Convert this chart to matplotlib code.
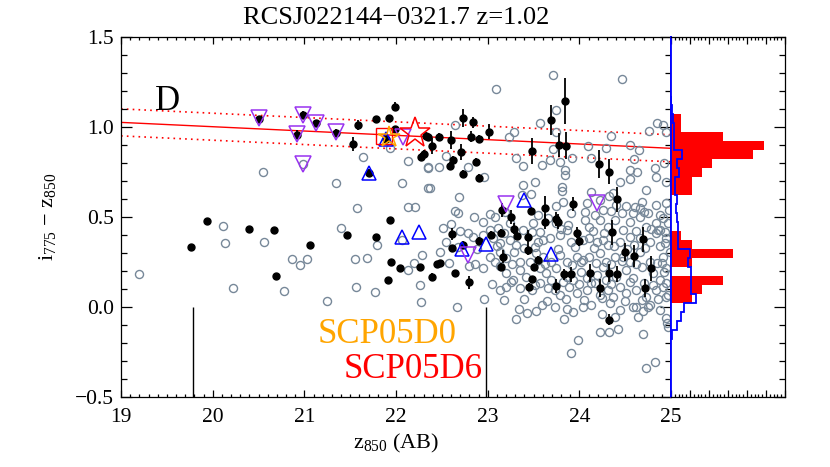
import numpy as np
import matplotlib
matplotlib.use('Agg')
import matplotlib.pyplot as plt
from matplotlib.ticker import MultipleLocator

plt.rcParams['font.family'] = ['Liberation Serif', 'DejaVu Serif']
plt.rcParams['mathtext.fontset'] = 'custom'
plt.rcParams['mathtext.rm'] = 'Liberation Serif'
plt.rcParams['mathtext.it'] = 'Liberation Serif:italic'

# field galaxies (open grey circles)
gray_x = [19.20, 20.11, 20.13, 20.22, 20.56, 20.78, 20.87, 20.95, 21.03, 21.25, 21.40, 21.57,
          21.55, 21.68, 21.79, 21.56, 21.77, 22.13, 22.20, 22.28, 22.26, 22.27, 22.13, 22.21,
          21.35, 22.06, 22.35, 20.55, 21.64, 22.13, 22.35, 21.93, 20.98, 22.06,
          # upper right
          23.09, 23.71, 24.47, 22.64, 22.55, 22.47, 22.35, 22.37, 22.78, 22.96, 23.23, 23.29,
          23.57, 23.31, 23.39, 23.71, 23.75, 23.74, 23.68, 23.79, 23.84, 23.84, 23.92, 23.59,
          23.52, 23.47, 24.09, 24.13, 24.29, 24.34, 24.22, 24.32, 24.44, 24.55, 24.60, 24.65,
          24.55, 24.63, 24.55, 24.76, 24.85, 24.91, 24.82, 24.84, 24.95, 24.51, 24.61,
          # dense cloud
          23.39, 23.81, 23.81, 24.13, 24.37, 24.73,
          22.69, 23.37, 23.75, 23.82, 24.06, 24.08, 24.26, 24.40, 24.59, 24.66, 24.75, 24.84,
          24.95, 24.98,
          22.51, 22.60, 22.68, 22.64, 22.85, 22.95, 23.08, 23.11, 23.24, 23.49, 23.66, 23.75,
          23.88, 24.06, 24.11, 24.22, 24.31, 24.39, 24.55, 24.66, 24.84, 24.91, 24.97,
          22.55, 22.79, 22.84, 22.95, 23.06, 23.13, 23.24, 23.31, 23.48, 23.55, 23.60, 23.68,
          23.79, 23.86, 23.91, 24.04, 24.11, 24.19, 24.26, 24.31, 24.44, 24.55, 24.60, 24.66,
          24.77, 24.84, 24.95,
          22.48, 23.02, 23.13, 23.20, 23.29, 23.35, 23.53, 23.60, 23.69, 23.79, 23.86, 23.97,
          24.04, 24.11, 24.22, 24.29, 24.39, 24.48, 24.55, 24.66, 24.77, 24.91, 24.99,
          22.80, 22.95, 23.13, 23.20, 23.28, 23.35, 23.42, 23.57, 23.64, 23.69, 23.75, 23.86,
          23.93, 24.02, 24.08, 24.19, 24.26, 24.29, 24.40, 24.51, 24.59, 24.68, 24.80, 24.88,
          24.95,
          23.13, 23.20, 23.35, 23.48, 23.57, 23.66, 23.73, 23.79, 23.89, 23.97, 24.08, 24.17,
          24.22, 24.31, 24.37, 24.44, 24.51, 24.62, 24.73, 24.84, 24.91, 24.97,
          22.66, 22.96, 23.59, 23.73, 23.93, 24.04, 24.13, 24.33, 24.44, 24.59, 24.77, 24.88,
          24.22,
          # faint / bottom
          23.34, 23.43, 23.53, 23.31, 23.87, 23.83, 23.98, 23.91, 24.25, 24.39, 24.32, 24.42,
          24.62, 24.69, 24.64, 24.69, 24.73, 24.82, 24.94, 24.96, 24.97,
          24.95, 24.92, 24.88, 24.68, 24.86, 24.73, 24.93, 24.90, 24.92, 24.95, 24.95, 24.75,
          # overlapping circles in the crowded part
          23.02, 23.19, 23.55, 23.91, 24.17, 24.34, 24.46, 24.71, 24.88,
          22.70, 23.02, 23.18, 23.38, 23.57, 23.80, 24.15, 24.27, 24.48, 24.62, 24.78, 24.93,
          22.68, 22.88, 23.10, 23.40, 23.52, 23.77, 23.95, 24.16, 24.38, 24.52, 24.72, 24.88,
          22.58, 22.86, 23.08, 23.27, 23.46, 23.63, 23.92, 24.02, 24.18, 24.35, 24.46, 24.62,
          24.85,
          23.05, 23.25, 23.52, 23.82, 24.00, 24.13, 24.35, 24.55, 24.70, 24.80,
          23.18, 23.40, 23.65, 23.85, 24.05, 24.25, 24.50, 24.68, 24.86]
gray_y = [0.184, 0.448, 0.354, 0.104, 0.360, 0.087, 0.263, 0.234, 0.263, 0.034, 0.439, 0.550,
          0.265, 0.273, 0.343, 0.108, 0.080, 0.204, 0.241, 0.286, 0.119, 0.026, 0.556, 0.556,
          0.689, 0.689, 0.658, 0.747, 0.830, 0.812, 0.775, 0.880, 0.793, 0.372,
          1.208, 1.288, 1.264, 1.010, 0.838, 0.775, 0.769, 0.658, 0.775, 0.719, 0.941, 0.973,
          1.023, 0.825, 0.782, 0.875, 1.093, 0.973, 0.815, 0.806, 0.760, 0.732, 0.825, 0.788,
          0.695, 0.627, 0.893, 0.828, 0.880, 0.949, 0.593, 0.615, 0.695, 0.899, 0.821, 0.871,
          0.760, 0.751, 0.708, 0.977, 1.023, 1.010, 0.769, 0.719, 0.695, 0.560, 0.556,
          0.676, 0.667, 0.645, 0.639, 0.630, 0.648,
          0.611, 0.621, 0.560, 0.584, 0.528, 0.574, 0.537, 0.565, 0.519, 0.547, 0.519, 0.565,
          0.574, 0.537,
          0.435, 0.458, 0.519, 0.532, 0.497, 0.473, 0.500, 0.435, 0.463, 0.463, 0.491, 0.463,
          0.454, 0.482, 0.445, 0.482, 0.445, 0.482, 0.473, 0.500, 0.463, 0.491, 0.463,
          0.361, 0.408, 0.389, 0.398, 0.380, 0.352, 0.371, 0.343, 0.417, 0.361, 0.371, 0.380,
          0.398, 0.426, 0.361, 0.371, 0.380, 0.361, 0.371, 0.343, 0.361, 0.389, 0.343, 0.380,
          0.361, 0.408, 0.380,
          0.306, 0.278, 0.306, 0.269, 0.306, 0.250, 0.297, 0.278, 0.250, 0.287, 0.250, 0.278,
          0.260, 0.278, 0.297, 0.250, 0.278, 0.278, 0.250, 0.306, 0.250, 0.278, 0.306,
          0.226, 0.213, 0.226, 0.185, 0.148, 0.204, 0.167, 0.213, 0.185, 0.148, 0.213, 0.167,
          0.148, 0.195, 0.158, 0.176, 0.223, 0.148, 0.167, 0.204, 0.158, 0.223, 0.185, 0.148,
          0.213,
          0.093, 0.111, 0.102, 0.093, 0.130, 0.102, 0.093, 0.065, 0.111, 0.074, 0.093, 0.130,
          0.065, 0.093, 0.056, 0.111, 0.074, 0.093, 0.056, 0.093, 0.111, 0.065,
          -0.003, 0.043, 0.010, 0.000, -0.027, 0.000, 0.010, 0.019, -0.018, 0.000, 0.010, -0.018,
          -0.139,
          -0.013, -0.033, -0.022, -0.068, -0.014, -0.068, -0.185, -0.259, -0.040, -0.055, -0.138, -0.124,
          0.000, -0.022, -0.055, -0.151, -0.342, -0.305, -0.064, -0.092, -0.114,
          0.972, 0.796, 0.426, 0.583, 0.426, 0.444, 0.352, 0.241, 0.194, 0.130, 0.055, 0.000,
          0.515, 0.528, 0.512, 0.522, 0.509, 0.531, 0.518, 0.525, 0.510,
          0.418, 0.425, 0.411, 0.428, 0.416, 0.433, 0.420, 0.412, 0.427, 0.418, 0.430, 0.414,
          0.330, 0.322, 0.338, 0.326, 0.334, 0.318, 0.331, 0.325, 0.340, 0.322, 0.328, 0.335,
          0.245, 0.238, 0.251, 0.236, 0.247, 0.240, 0.233, 0.249, 0.242, 0.237, 0.252, 0.239,
          0.244,
          0.128, 0.135, 0.122, 0.138, 0.126, 0.131, 0.124, 0.136, 0.129, 0.121,
          0.038, 0.045, 0.032, 0.041, 0.035, 0.047, 0.030, 0.039, 0.043]

# red-sequence candidates with errors (black dots)
black_x = [20.50, 20.99, 21.13, 20.92, 21.35, 21.58, 21.53, 21.78, 21.92, 21.99, 21.99, 21.89,
           21.70, 22.30, 22.27, 22.33,
           19.76, 19.94, 20.40, 20.67, 20.69, 21.06, 21.47, 21.78, 21.93, 21.94, 22.04, 22.26,
           21.91,
           22.35, 22.39, 22.47, 22.60, 22.73, 22.84, 22.82, 22.90, 23.01, 22.62, 22.59, 22.71,
           22.87, 22.73, 22.90, 23.48, 23.78, 23.85, 23.69, 23.84, 24.21, 24.32, 24.41,
           22.45, 22.48, 22.39, 22.61, 22.61, 22.73, 22.64, 22.80, 22.91, 23.04, 23.15, 23.17,
           23.15, 23.16, 23.25, 23.29, 23.32, 23.47, 23.63, 23.63, 23.74, 23.77, 23.93, 23.44,
           23.44, 23.55, 23.51, 23.48, 23.45, 23.75, 23.83, 23.91, 23.97, 24.00, 24.12, 24.22,
           24.32, 24.36, 24.41, 24.50, 24.60, 24.69, 24.72, 24.78, 24.32]
black_y = [1.041, 1.065, 1.019, 0.954, 0.967, 1.010, 0.904, 1.041, 1.047, 1.112, 0.986, 0.930,
           0.745, 0.850, 0.833, 0.949,
           0.332, 0.476, 0.432, 0.426, 0.169, 0.343, 0.397, 0.389, 0.484, 0.248, 0.213, 0.223,
           0.148,
           0.945, 0.893, 0.945, 0.927, 1.047, 1.025, 0.945, 0.932, 0.973, 0.815, 0.782, 0.858,
           0.806, 0.738, 0.715, 0.865, 0.899, 0.893, 1.038, 1.143, 0.793, 0.749, 0.597,
           0.236, 0.241, 0.167, 0.404, 0.324, 0.343, 0.185, 0.136, 0.367, 0.398, 0.411, 0.278,
           0.223, 0.537, 0.500, 0.434, 0.395, 0.532, 0.547, 0.473, 0.486, 0.473, 0.571, 0.385,
           0.315, 0.260, 0.219, 0.152, 0.111, 0.115, 0.180, 0.180, 0.411, 0.367, 0.185, 0.106,
           0.190, 0.413, 0.180, 0.306, 0.282, 0.374, 0.102, 0.213, -0.072]
black_err = [0.02, 0.02, 0.02, 0.025, 0.02, 0.03, 0.04, 0.02, 0.02, 0.025, 0.02, 0.02,
             0.02, 0.02, 0.02, 0.02,
             0.01, 0.01, 0.01, 0.01, 0.01, 0.01, 0.01, 0.01, 0.01, 0.01, 0.01, 0.01,
             0.01,
             0.02, 0.045, 0.02, 0.05, 0.05, 0.03, 0.03, 0.02, 0.04, 0.02, 0.02, 0.045,
             0.02, 0.02, 0.02, 0.07, 0.065, 0.075, 0.085, 0.13, 0.08, 0.07, 0.07,
             0.02, 0.02, 0.02, 0.035, 0.02, 0.02, 0.02, 0.035, 0.02, 0.02, 0.02, 0.035,
             0.02, 0.04, 0.04, 0.03, 0.02, 0.02, 0.07, 0.04, 0.04, 0.04, 0.04, 0.04,
             0.03, 0.02, 0.02, 0.02, 0.02, 0.04, 0.03, 0.04, 0.03, 0.03, 0.05, 0.05,
             0.05, 0.07, 0.045, 0.05, 0.06, 0.07, 0.05, 0.07, 0.03]

blue_x = [21.89, 21.70, 22.06, 22.25, 22.72, 22.98, 23.40, 23.69]
blue_y = [0.930, 0.741, 0.385, 0.417, 0.321, 0.348, 0.593, 0.293]

purple_x = [20.50, 20.99, 21.13, 20.92, 21.35, 20.98, 22.08, 23.20, 22.79, 24.19]
purple_y = [1.047, 1.065, 1.019, 0.958, 0.972, 0.793, 0.945, 0.571, 0.287, 0.575]

# supernova hosts
sn_names = ['SCP05D0', 'SCP05D6']
sn_colors = ['#ffa500', '#ff0000']
sn_x = [21.92, 22.21]
sn_y = [0.945, 0.964]
sq_x, sq_y = 21.87, 0.949
sn_line_x = [19.78, 22.98]

# red-sequence fit
cmr_mag = [19.0, 25.0]
cmr_col = [1.024, 0.880]
cmr_width = 0.075

# colour histograms
hist_edges = np.round(np.arange(0.02, 1.0701, 0.05), 3)
red_counts = [2, 3, 5, 0, 2, 6, 2, 1, 0, 0, 0, 0, 2, 2, 3, 4, 8, 9, 5, 1, 1]
blue_edges = np.round(np.arange(-0.18, 1.1701, 0.05), 3)
blue_counts = [0.13, 0.61, 0.97, 1.26, 2.42, 1.94, 1.94, 1.94, 1.68, 1.84, 0.7, 0.7, 0.65,
               0.6, 0.5, 0.55, 0.42, 0.42, 0.8, 0.55, 1.03, 0.3, 0.3, 0.3, 0.15, 0.1, 0.05]

fig = plt.figure(figsize=(8.3, 4.67), dpi=100)
ax = fig.add_axes([0.1458, 0.1505, 0.6627, 0.7709])
axh = fig.add_axes([0.8084, 0.1505, 0.1373, 0.7709])

ax.plot(gray_x, gray_y, 'o', mfc='none', mec='#778899', ms=5.8, mew=1.0, zorder=2)
ax.errorbar(black_x, black_y, yerr=black_err, fmt='o', color='k', ms=5, elinewidth=1.3,
            capsize=0, zorder=3)
ax.plot(blue_x, blue_y, '^', mfc='none', mec='#0000ff', ms=10, mew=1.1, zorder=4)
ax.plot(purple_x, purple_y, 'v', mfc='none', mec='#9932f0', ms=11, mew=1.1, zorder=4)
ax.plot(sq_x, sq_y, 's', mfc='none', mec='#ff0000', ms=11, mew=1.0, zorder=5)
ax.plot(sn_x[0], sn_y[0], '*', mfc='none', mec=sn_colors[0], ms=16, mew=1.1, zorder=5)
ax.plot(sn_x[1], sn_y[1], '*', mfc='none', mec=sn_colors[1], ms=23, mew=1.1, zorder=5)
ax.vlines(sn_line_x, -0.5, 0.0, color='k', lw=1.0, zorder=1)

mag = np.array(cmr_mag)
col = np.array(cmr_col)
ax.plot(mag, col, color='#ff0000', lw=1.0, zorder=1)
ax.plot(mag, col + cmr_width, color='#ff0000', lw=1.2, ls=(0, (1, 2.5)), zorder=1)
ax.plot(mag, col - cmr_width, color='#ff0000', lw=1.2, ls=(0, (1, 2.5)), zorder=1)

ax.text(19.37, 1.093, 'D', fontsize=25, va='baseline')
ax.text(21.14, -0.2, sn_names[0], color=sn_colors[0], fontsize=25, va='baseline')
ax.text(21.43, -0.396, sn_names[1], color=sn_colors[1], fontsize=25, va='baseline')

ax.set_xlim(19, 25)
ax.set_ylim(-0.5, 1.5)
ax.xaxis.set_major_locator(MultipleLocator(1))
ax.xaxis.set_minor_locator(MultipleLocator(0.1))
ax.yaxis.set_major_locator(MultipleLocator(0.5))
ax.yaxis.set_minor_locator(MultipleLocator(0.1))
ax.yaxis.set_major_formatter(lambda v, p: f'{v:.1f}'.replace('-', '\u2212'))
ax.tick_params(which='both', direction='in', top=True, right=True, labelsize=15.5, width=0.9)
ax.tick_params(axis='y', which='major', length=8, pad=5)
ax.tick_params(axis='y', which='minor', length=4.5)
ax.tick_params(axis='x', which='major', length=5, pad=8)
ax.tick_params(axis='x', which='minor', length=2.5)
for s in ax.spines.values():
    s.set_linewidth(0.9)
ax.spines['right'].set_color('#0000ff')
ax.spines['right'].set_linewidth(1.3)
ax.set_xlabel(r'$\mathrm{z}_{850}$ (AB)', fontsize=16, labelpad=4)
ax.set_ylabel('$\\mathrm{i}_{775}$ \u2212 $\\mathrm{z}_{850}$', fontsize=16, labelpad=12)
ax.set_title('RCSJ022144\u22120321.7 z=1.02', fontsize=19, pad=9)

axh.stairs(red_counts, hist_edges, orientation='horizontal', fill=True, color='#ff0000', zorder=2)
axh.stairs(blue_counts, blue_edges, orientation='horizontal', color='#0000ff', lw=1.3, zorder=3)
axh.set_xlim(0, 11.05)
axh.set_ylim(-0.5, 1.5)
axh.set_xticks(np.linspace(0, 11.05, 7))
axh.set_xticks(np.linspace(0, 11.05, 31), minor=True)
axh.yaxis.set_major_locator(MultipleLocator(0.5))
axh.yaxis.set_minor_locator(MultipleLocator(0.1))
axh.tick_params(which='both', direction='in', top=True, bottom=True, left=False, right=True,
                labelleft=False, labelbottom=False, width=0.9)
axh.tick_params(axis='y', which='major', length=8)
axh.tick_params(axis='y', which='minor', length=4.5)
axh.tick_params(axis='x', which='major', length=5)
axh.tick_params(axis='x', which='minor', length=2.5)
for s in axh.spines.values():
    s.set_linewidth(0.9)
axh.spines['left'].set_color('#0000ff')
axh.spines['left'].set_linewidth(1.3)

fig.savefig('out.png', dpi=100)
